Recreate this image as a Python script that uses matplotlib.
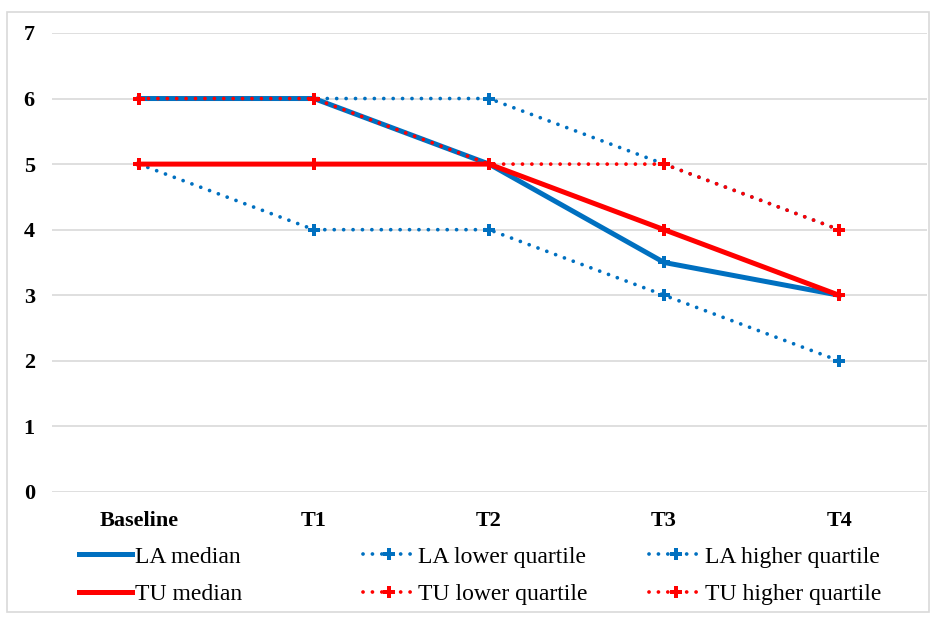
import matplotlib
matplotlib.use('Agg')
import matplotlib.pyplot as plt
from matplotlib.patches import Rectangle

plt.rcParams['font.family'] = ['Liberation Serif', 'DejaVu Serif']

times = ['Baseline', 'T1', 'T2', 'T3', 'T4']
la_median = [6, 6, 5, 3.5, 3]
tu_median = [5, 5, 5, 4, 3]
la_lower = [5, 4, 4, 3, 2]
la_higher = [6, 6, 6, 5, 4]
tu_lower = [5, 5, 5, 4, 3]
tu_higher = [6, 6, 5, 5, 4]

blue = '#0070C0'
red = '#FF0000'

fig = plt.figure(figsize=(9.33, 6.17), dpi=100)
ax = fig.add_axes([0.0552, 0.2026, 0.938, 0.744])
fig.patches.append(Rectangle((0.008, 0.008), 0.988, 0.972, transform=fig.transFigure,
                             fill=False, edgecolor='#d9d9d9', linewidth=1.2))

x = range(len(times))
mk = dict(marker='P', markersize=8, markeredgewidth=0)
dot = dict(lw=2.7, ls=(0, (0.01, 2.5)), dash_capstyle='round')
h1, = ax.plot(x, la_median, color=blue, lw=3.6, label='LA median', zorder=3)
h2, = ax.plot(x, tu_median, color=red, lw=3.6, label='TU median', zorder=4)
h3, = ax.plot(x, la_lower, color=blue, label='LA lower quartile', **dot, **mk)
h5, = ax.plot(x, la_higher, color=blue, label='LA higher quartile', **dot, **mk)
h4, = ax.plot(x, tu_lower, color=red, label='TU lower quartile', zorder=5, **dot, **mk)
h6, = ax.plot(x, tu_higher, color=red, label='TU higher quartile', zorder=5, **dot, **mk)
ax.plot(x, la_median, ls='none', color=blue, zorder=3, **mk)
ax.plot(x, tu_median, ls='none', color=red, zorder=6, **mk)

ax.set_xlim(-0.5, 4.5)
ax.set_ylim(0, 7)
ax.set_yticks(range(8))
ax.set_xticks(list(x))
ax.set_xticklabels(times, fontsize=16, fontweight='bold')
ax.set_yticklabels([str(v) for v in range(8)], fontsize=16, fontweight='bold')
ax.tick_params(axis='x', length=0, pad=14)
ax.tick_params(axis='y', length=0, pad=12)
ax.grid(axis='y', color='#d9d9d9', lw=1.2)
ax.set_axisbelow(True)
for s in ax.spines.values():
    s.set_visible(False)

cols = [([h1, h2], 0.0847), ([h3, h4], 0.389), ([h5, h6], 0.696)]
for hs, xa in cols:
    fig.legend(handles=hs, loc='upper left', bbox_to_anchor=(xa, 0.115),
               frameon=False, fontsize=17, borderpad=0, borderaxespad=0,
               handlelength=2.25, handletextpad=0.1, labelspacing=0.68)

fig.savefig('out.png', dpi=100)
